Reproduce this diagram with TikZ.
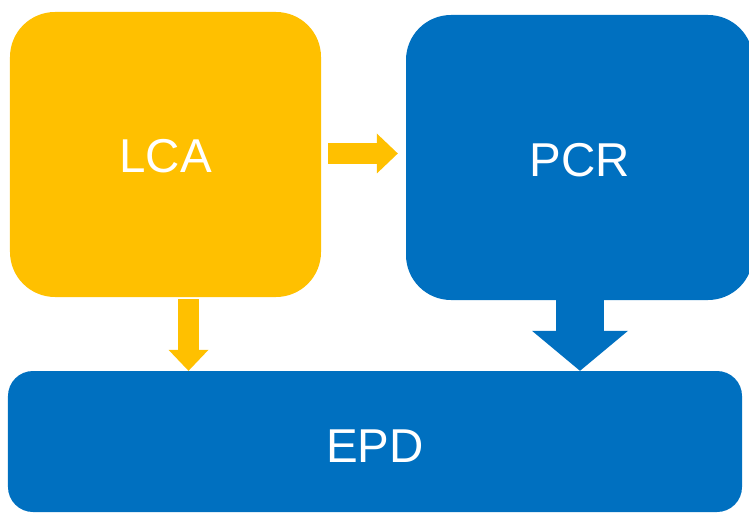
\documentclass[tikz,border=0pt]{standalone}
\usepackage{fontspec}
\setmainfont{Liberation Sans}
\usetikzlibrary{arrows.meta,positioning}
\definecolor{colorLca}{HTML}{FFC000}
\definecolor{colorBlue}{HTML}{0070C0}
\tikzset{
  block/.style={rectangle, inner sep=0pt, text=white,
    font=\fontsize{47.5bp}{57bp}\selectfont},
  thinarrow/.style={colorLca, line width=21bp,
    -{Triangle[length=21bp 0, width=40bp 0, line width=0pt 0]}},
}
\begin{document}
\begin{tikzpicture}[x=1bp,y=-1bp]
        \useasboundingbox (0,0) rectangle (749,513);
        \node[block, fill=colorLca, rounded corners=45bp, minimum width=311bp, minimum height=285bp, text height=36bp] (lca) at (165.5,154.5) {LCA};
        \node[block, fill=colorBlue, rounded corners=45bp, minimum width=347bp, minimum height=285bp, text height=38bp] (pcr) at (579.5,157.5) {PCR};
        \node[block, fill=colorBlue, rounded corners=25bp, minimum width=734bp, minimum height=141bp, text height=41bp] (epd) at (375,441.5) {EPD};
        \draw[thinarrow, shorten <=7bp, shorten >=8bp] (lca.east |- 0,153.5) -- (pcr.west |- 0,153.5);
        \draw[thinarrow, shorten <=2bp] (lca.south -| 188.5,0) -- (epd.north -| 188.5,0);
        \draw[colorBlue, line width=48bp, -{Triangle[length=40bp 0, width=96bp 0, line width=0pt 0]}] (pcr.south -| 580,0) -- (epd.north -| 580,0);
    \end{tikzpicture}
\end{document}
